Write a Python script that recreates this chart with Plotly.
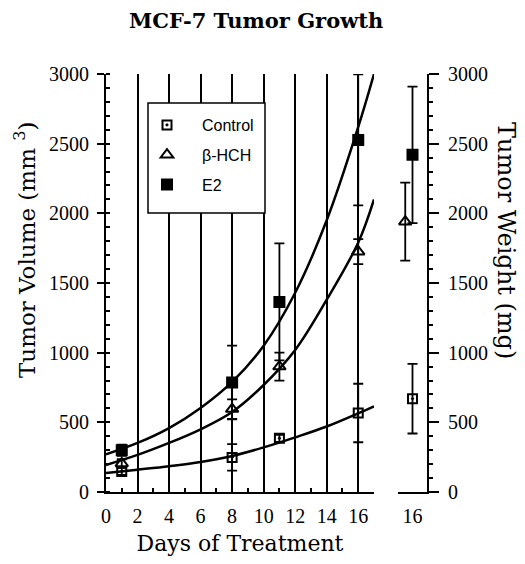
import plotly.graph_objects as go

# ---- data ----
days = [1, 8, 11, 16]
control_vol = [148, 248, 385, 567]
control_err = [25, 95, 25, 210]
bhch_vol = [205, 595, 900, 1725]
bhch_err = [30, 70, 100, 90]
e2_vol = [300, 786, 1364, 2527]
e2_err = [40, 265, 420, 470]

fit_days = [0, 2, 4, 6, 8, 10, 12, 14, 16, 17]
control_fit = [136, 160, 185, 215, 258, 320, 392, 470, 565, 615]
bhch_fit = [194, 266, 352, 450, 574, 768, 1019, 1380, 1790, 2100]
e2_fit = [270, 352, 459, 603, 790, 1050, 1430, 1950, 2620, 3000]

weight_day = 16
groups = ["Control", "β-HCH", "E2"]
weight = [670, 1940, 2420]
weight_err = [250, 280, 490]

x_ticks = [0, 2, 4, 6, 8, 10, 12, 14, 16]
y_ticks = [0, 500, 1000, 1500, 2000, 2500, 3000]

# ---- styles ----
SERIF = "DejaVu Serif"
NUM = "Liberation Serif"
SANS = "Liberation Sans"
OFF = 8  # page body margin
W, H = 525 - OFF, 564 - OFF
symbols = {"Control": "square-open-dot", "β-HCH": "triangle-up-open", "E2": "square"}
msize = {"Control": 9, "β-HCH": 11, "E2": 10}
dodge = {"Control": 0, "β-HCH": -0.5, "E2": 0}


def px_x(p):
    return (p - OFF) / W


def px_y(p):
    return (H - (p - OFF)) / H


fig = go.Figure()

for fit in [control_fit, bhch_fit, e2_fit]:
    fig.add_trace(go.Scatter(x=fit_days, y=fit, mode="lines",
                             line=dict(color="black", width=2.5, shape="spline"),
                             showlegend=False, hoverinfo="skip", xaxis="x", yaxis="y"))

for name, vals, errs in [("Control", control_vol, control_err),
                         ("β-HCH", bhch_vol, bhch_err),
                         ("E2", e2_vol, e2_err)]:
    fig.add_trace(go.Scatter(
        x=days, y=vals, mode="markers", name=name, legendgroup=name,
        marker=dict(symbol=symbols[name], size=msize[name], color="black",
                    line=dict(color="black", width=2)),
        error_y=dict(type="data", array=errs, color="black", thickness=1.8, width=5),
        xaxis="x", yaxis="y"))

for i, name in enumerate(groups):
    fig.add_trace(go.Scatter(
        x=[weight_day + dodge[name]], y=[weight[i]], mode="markers", name=name,
        legendgroup=name, showlegend=False,
        marker=dict(symbol=symbols[name], size=msize[name], color="black",
                    line=dict(color="black", width=2)),
        error_y=dict(type="data", array=[weight_err[i]], color="black", thickness=1.8, width=5),
        xaxis="x2", yaxis="y2"))

ydom = [px_y(492), px_y(74)]

fig.update_layout(
    width=W, height=H,
    margin=dict(l=0, r=0, t=0, b=0),
    paper_bgcolor="white", plot_bgcolor="white",
    font=dict(family=SERIF, size=16, color="black"),
    showlegend=True,
    legend=dict(x=px_x(132), y=px_y(108), xanchor="left", yanchor="top",
                borderwidth=0, bgcolor="rgba(0,0,0,0)",
                font=dict(family=SANS, size=16), tracegroupgap=6, itemwidth=60),
    xaxis=dict(domain=[px_x(106), px_x(374)], range=[0, 17], tickvals=x_ticks,
               showline=True, linecolor="black", linewidth=2,
               ticks="inside", ticklen=8, tickwidth=1.5, tickcolor="black",
               minor=dict(dtick=1, ticks="inside", ticklen=4, tickwidth=1.5, tickcolor="black"),
               showgrid=True, gridcolor="black", gridwidth=1.5, zeroline=False,
               tickfont=dict(family=NUM, size=20), ticklabelstandoff=5, automargin=False,
               title=dict(text="Days of Treatment", font=dict(family=SERIF, size=22), standoff=10),
               anchor="y"),
    yaxis=dict(domain=ydom, range=[0, 3000], tickvals=y_ticks,
               showline=True, linecolor="black", linewidth=2,
               ticks="outside", ticklen=7, tickwidth=1.5, tickcolor="black",
               minor=dict(dtick=100, ticks="inside", ticklen=4, tickwidth=1.5, tickcolor="black"),
               showgrid=False, zeroline=False, tickfont=dict(family=NUM, size=20),
               ticklabelstandoff=4, automargin=False, anchor="x"),
    xaxis2=dict(domain=[px_x(398), px_x(427)], range=[15, 17], tickvals=[weight_day],
                showline=True, linecolor="black", linewidth=2, ticks="", showgrid=False,
                zeroline=False, tickfont=dict(family=NUM, size=20), ticklabelstandoff=5,
                automargin=False, anchor="y2"),
    yaxis2=dict(domain=ydom, range=[0, 3000], tickvals=y_ticks, side="right",
                showline=True, linecolor="black", linewidth=2,
                ticks="outside", ticklen=10, tickwidth=1.5, tickcolor="black",
                minor=dict(dtick=100, ticks="outside", ticklen=4, tickwidth=1.5, tickcolor="black"),
                showgrid=False, zeroline=False, tickfont=dict(family=NUM, size=20),
                ticklabelstandoff=5, automargin=False, anchor="x2"),
    shapes=[
        dict(type="rect", xref="paper", yref="paper",
             x0=px_x(148), x1=px_x(265), y0=px_y(213), y1=px_y(103),
             line=dict(color="black", width=1.5), fillcolor="white", layer="above"),
    ],
    annotations=[
        dict(text="<b>MCF-7 Tumor Growth</b>", x=px_x(256), y=px_y(21), xref="paper",
             yref="paper", showarrow=False, font=dict(family=SERIF, size=21),
             xanchor="center", yanchor="middle"),
        dict(text="Tumor Volume (mm <sup>3</sup>)", x=px_x(25), y=px_y(250), xref="paper",
             yref="paper", showarrow=False, textangle=-90, font=dict(family=SERIF, size=23),
             xanchor="center", yanchor="middle"),
        dict(text="Tumor Weight (mg)", x=px_x(506), y=px_y(240), xref="paper", yref="paper",
             showarrow=False, textangle=90, font=dict(family=SERIF, size=24),
             xanchor="center", yanchor="middle"),
    ],
)

fig.write_html("out.html")
